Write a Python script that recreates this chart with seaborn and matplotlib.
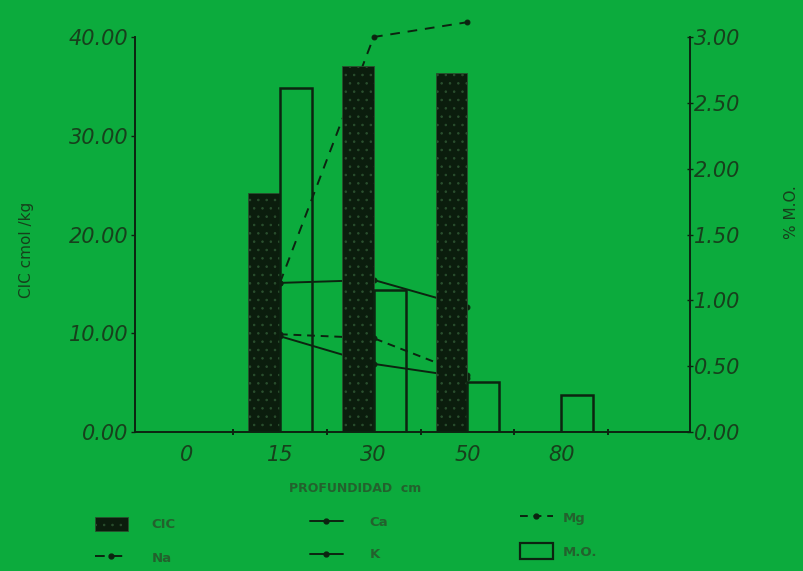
"""CIC, cationes y materia organica por profundidad (recreacion de grafico escaneado)."""
import matplotlib
matplotlib.use("Agg")
import matplotlib.pyplot as plt
import pandas as pd
import seaborn as sns
from matplotlib.lines import Line2D
from matplotlib.patches import Patch

# datos
profundidad = ["0", "15", "30", "50", "80"]
prof_cic = ["15", "30", "50"]
cic = [24.2, 37.1, 36.4]
prof_mo = ["15", "30", "50", "80"]
mo = [2.61, 1.08, 0.38, 0.28]
prof_ion = ["15", "30", "50"]
ca = [15.1, 15.4, 12.7]
mg = [9.9, 9.5, 5.8]
k = [9.7, 6.9, 5.5]
na = [15.1, 40.0, 41.5]
yticks_cic = [0, 10, 20, 30, 40]
yticks_mo = [0.0, 0.5, 1.0, 1.5, 2.0, 2.5, 3.0]

VERDE = "#0cab3d"
OSCURO = "#0c2410"
TEXTO = "#17401c"
LEYENDA = "#23612d"
CIC_FILL = "#0b1d0d"
CIC_HATCH = "#2a4f2e"

sns.set_theme(style="ticks")
plt.rcParams["font.family"] = ["DejaVu Sans"]
plt.rcParams["hatch.linewidth"] = 0.6

barras = pd.concat([
    pd.DataFrame({"prof": prof_cic, "serie": "CIC", "valor": cic}),
    pd.DataFrame({"prof": prof_mo, "serie": "M.O.", "valor": mo}),
])
hue_order = ["CIC", "M.O."]
colores = {"CIC": CIC_FILL, "M.O.": OSCURO}

fig = plt.figure(figsize=(8.04, 5.71), dpi=100, facecolor=VERDE)
ax = fig.add_axes([0.168, 0.2434, 0.6903, 0.6918])
ax.set_facecolor(VERDE)
ax2 = ax.twinx()
ax2.patch.set_visible(False)

# cationes (debajo de las barras)
x_ion = [profundidad.index(p) for p in prof_ion]
estilos = [(ca, "-"), (k, "-"), (mg, (0, (4, 3))), (na, (0, (5, 4)))]
for vals, ls in estilos:
    sns.lineplot(x=x_ion, y=vals, ax=ax, color=OSCURO, lw=1.4, linestyle=ls,
                 marker="o", ms=3.5, mec=OSCURO, clip_on=False, sort=False, zorder=1)

# barras CIC (eje izquierdo)
sns.barplot(data=barras[barras["serie"] == "CIC"], x="prof", y="valor", hue="serie",
            order=profundidad, hue_order=hue_order, palette=colores, width=0.68,
            dodge=True, saturation=1, errorbar=None, legend=False, ax=ax, zorder=2)
for p in ax.patches:
    p.set_facecolor(CIC_FILL)
    p.set_edgecolor(CIC_HATCH)
    p.set_hatch("..")
    p.set_linewidth(0.6)

# barras M.O. (eje derecho)
sns.barplot(data=barras[barras["serie"] == "M.O."], x="prof", y="valor", hue="serie",
            order=profundidad, hue_order=hue_order, palette=colores, width=0.68,
            dodge=True, saturation=1, errorbar=None, legend=False, ax=ax2)
for p in ax2.patches:
    p.set_facecolor("none")
    p.set_edgecolor(OSCURO)
    p.set_linewidth(1.8)

ax.set_xlim(-0.545, 5.375)
ax.set_ylim(0, 40)
ax2.set_ylim(0, 3)

ax.set_xticks(range(len(profundidad)), labels=profundidad, fontstyle="italic", fontsize=15)
ax.set_xticks([i + 0.5 for i in range(len(profundidad))], minor=True)
ax.tick_params(axis="x", which="major", length=0, pad=9, labelcolor=TEXTO)
ax.tick_params(axis="x", which="minor", length=5, width=1.4, direction="inout", color=OSCURO)

ax.set_yticks(yticks_cic, labels=[f"{v:.2f}" for v in yticks_cic], fontstyle="italic", fontsize=15)
ax.tick_params(axis="y", length=3, width=1, pad=2, color=OSCURO, labelcolor=TEXTO)
ax2.set_yticks(yticks_mo, labels=[f"{v:.2f}" for v in yticks_mo], fontstyle="italic", fontsize=15)
ax2.tick_params(axis="y", length=4, width=1, pad=1, direction="inout", color=OSCURO, labelcolor=TEXTO)

for a in (ax, ax2):
    a.set_xlabel("")
    a.set_ylabel("")
    a.grid(False)
    a.spines["top"].set_visible(False)
    for s in a.spines.values():
        s.set_color(OSCURO)
        s.set_linewidth(1.4)
ax.spines["right"].set_visible(False)
ax2.spines["left"].set_visible(False)
ax2.spines["bottom"].set_visible(False)

fig.text(27 / 804, 1 - 250 / 571, "CIC cmol /kg", rotation=90, ha="center", va="center",
         fontsize=11, color=TEXTO)
fig.text(792 / 804, 1 - 212 / 571, "% M.O.", rotation=90, ha="center", va="center",
         fontsize=11, color=TEXTO)
fig.text(355 / 804, 1 - 488 / 571, "PROFUNDIDAD  cm", ha="center", va="center",
         fontsize=9, fontweight="bold", color=LEYENDA)

# leyenda en tres columnas
h_cic = Patch(facecolor=CIC_FILL, edgecolor=CIC_HATCH, hatch="..", lw=0.6)
h_mo = Patch(facecolor="none", edgecolor=OSCURO, lw=1.6)


def h_linea(ls):
    return Line2D([], [], color=OSCURO, lw=1.4, ls=ls, marker="o", ms=3.5)


prop = {"size": 9.5, "weight": "bold"}
columnas = [
    ([h_cic, h_linea((0, (5, 4)))], ["CIC", "Na"], 95, 517, 1.2, 1.8, 1.45),
    ([h_linea("-"), h_linea("-")], ["Ca", "K"], 310, 516, 0.7, 2.0, 1.45),
    ([h_linea((0, (4, 3))), h_mo], ["Mg", "M.O."], 520, 510, 1.5, 0.75, 1.3),
]
for hs, labs, x0, y0, hh, pad, sp in columnas:
    fig.legend(hs, labs, loc="upper left", bbox_to_anchor=(x0 / 804, 1 - y0 / 571),
               frameon=False, borderpad=0, borderaxespad=0, prop=prop, labelcolor=LEYENDA,
               handlelength=2.5, handleheight=hh, handletextpad=pad, labelspacing=sp)

fig.savefig("out.png", dpi=100, facecolor=VERDE)
